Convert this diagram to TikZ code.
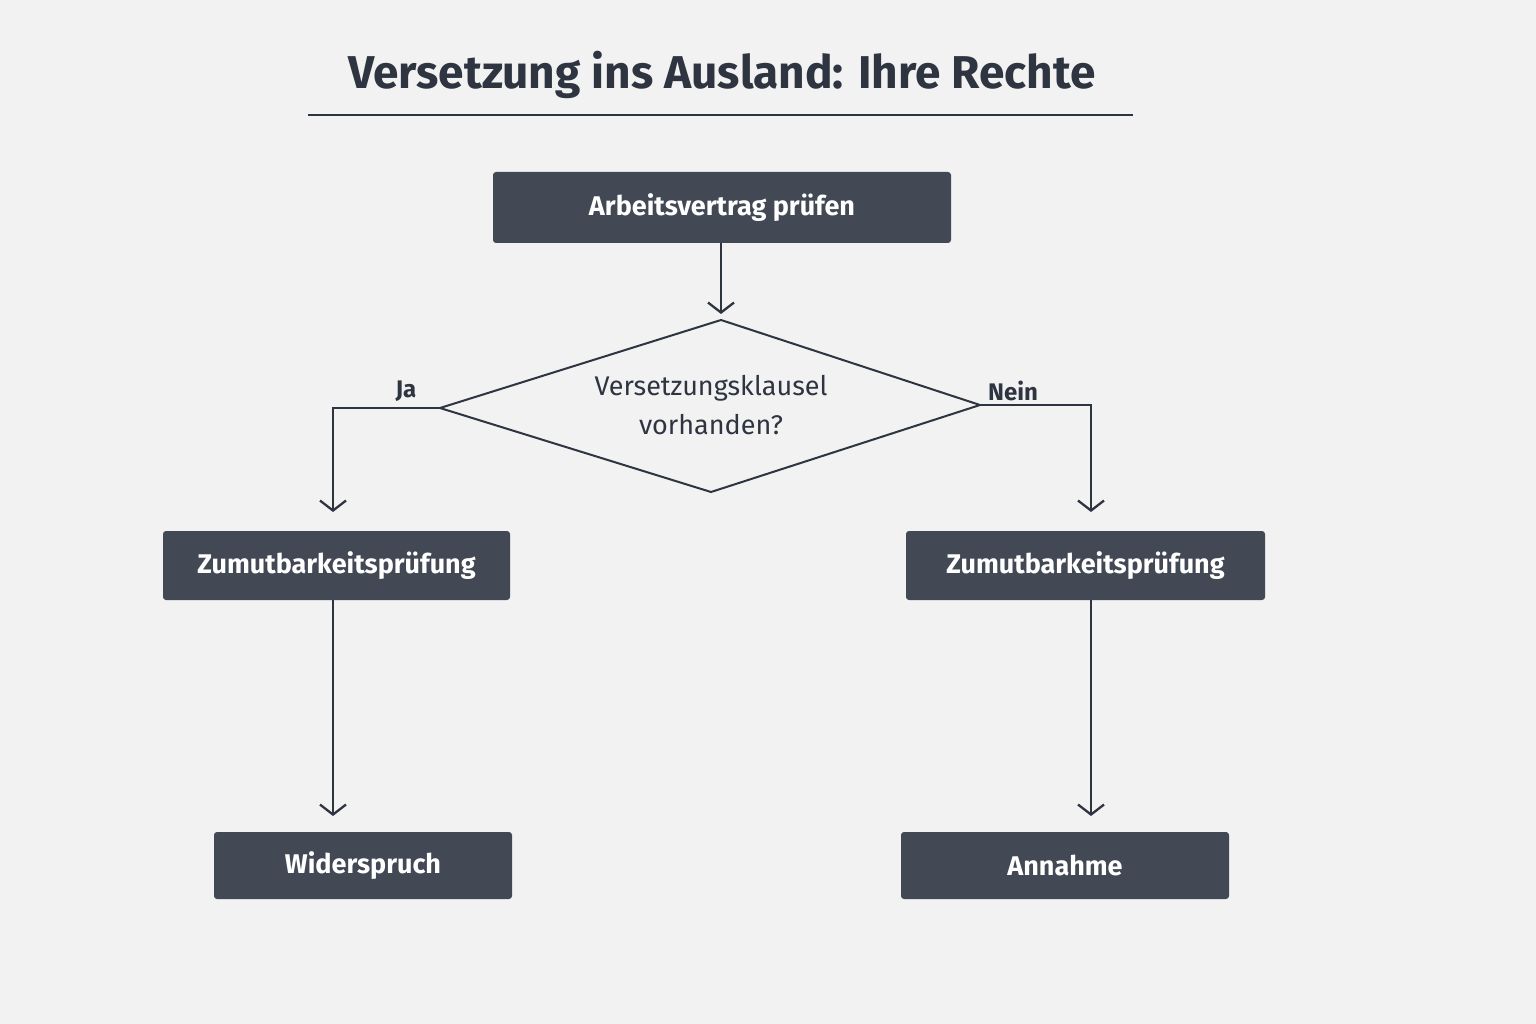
\documentclass[tikz,border=0pt]{standalone}
\usepackage{fontspec}
\setmainfont{Fira Sans}
\usetikzlibrary{arrows.meta}
\definecolor{bg}{HTML}{F2F2F3}
\definecolor{box}{HTML}{424955}
\definecolor{ink}{HTML}{2E3440}
\tikzset{
  bx/.style={draw=none,fill=box,rounded corners=3pt,text=white,font=\fontsize{27}{32}\selectfont\bfseries},
  conn/.style={draw=ink,line width=2.3pt,-{Straight Barb[length=10pt,width=26pt,line width=2.3pt]}},
  lbl/.style={text=ink,font=\fontsize{24}{28}\selectfont\bfseries}
}
\begin{document}
\begin{tikzpicture}[x=1pt,y=-1pt]
\fill[bg] (0,0) rectangle (1536,1024);
\useasboundingbox (0,0) rectangle (1536,1024);
\node[text=ink,font=\fontsize{46}{52}\selectfont\bfseries] (title) at (722,75) {Versetzung ins Ausland: Ihre Rechte};
\draw[ink,line width=2.5pt] (308,115) coordinate (u1) -- (1133,115) coordinate (u2);
\node[bx,minimum width=458pt,minimum height=71pt] (start) at (722,207.5) {Arbeitsvertrag prüfen};
\coordinate (dt) at (721,320);
\coordinate (dl) at (440,408);
\coordinate (dr) at (980,405);
\coordinate (db) at (711,492);
\draw[ink,line width=2pt,line join=miter] (dt) -- (dr) -- (db) -- (dl) -- cycle;
\node[text=ink,align=center,font=\fontsize{27}{39}\selectfont] (q) at (711,405) {Versetzungsklausel\\vorhanden?};
\node[bx,minimum width=347pt,minimum height=69pt] (zl) at (336.5,565.5) {Zumutbarkeitsprüfung};
\node[bx,minimum width=359pt,minimum height=69pt] (zr) at (1085.5,565.5) {Zumutbarkeitsprüfung};
\node[bx,minimum width=298pt,minimum height=67pt] (w) at (363,865.5) {Widerspruch};
\node[bx,minimum width=328pt,minimum height=67pt] (a) at (1065,865.5) {Annahme};
\coordinate (t1) at (721,314);
\draw[conn] (721,243) -- (t1);
\coordinate (jl) at (333,512);
\coordinate (nr) at (1091,512);
\draw[conn] (dl) -- (333,408) -- (jl);
\draw[conn] (dr) -- (1091,405) -- (nr);
\node[lbl] (ja) at (406,391) {Ja};
\node[lbl] (nein) at (1013,391) {Nein};
\coordinate (wl) at (333,816);
\coordinate (ar) at (1091,816);
\draw[conn] (333,600) -- (wl);
\draw[conn] (1091,600) -- (ar);
\end{tikzpicture}
\end{document}
